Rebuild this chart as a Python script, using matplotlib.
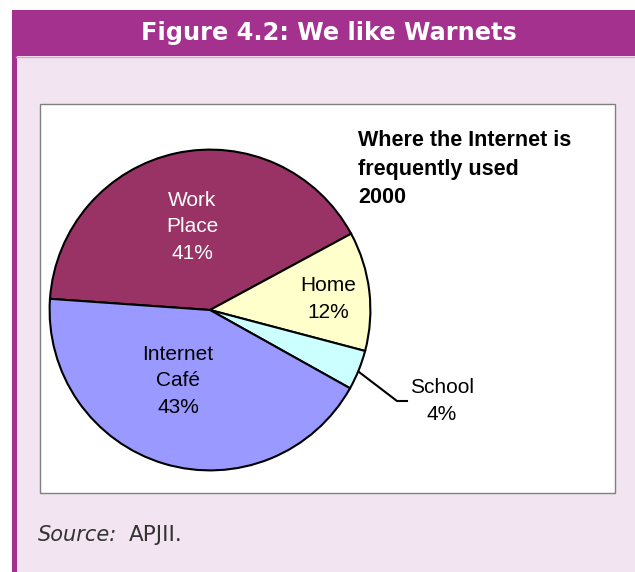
import matplotlib
matplotlib.use('Agg')
import matplotlib.pyplot as plt
import matplotlib.transforms as mtrans
from matplotlib.patches import Rectangle

# =====================================
# Data
# =====================================
labels = ['Work\nPlace', 'Home', 'School', 'Internet\nCafé']
shares = [41, 12, 4, 43]
colors = ['#993366', '#FFFFCC', '#CCFFFF', '#9999FF']
text_colors = ['white', 'black', 'black', 'black']

fig_title = 'Figure 4.2: We like Warnets'
chart_title = 'Where the Internet is\nfrequently used\n2000'

# =====================================
# Figure + background panel (pixel coords, y from top)
# =====================================
W, H = 635, 572
fig = plt.figure(figsize=(W / 100, H / 100), dpi=100)
fig.patch.set_facecolor('white')

bg = fig.add_axes([0, 0, 1, 1])
bg.set_xlim(0, W)
bg.set_ylim(H, 0)
bg.axis('off')

# pink panel and purple border
bg.add_patch(Rectangle((12, 10), W - 12, H - 10, facecolor='#F2E4F0', edgecolor='none'))
bg.add_patch(Rectangle((12, 10), 4.5, H - 10, facecolor='#A5318F', edgecolor='none'))
bg.add_patch(Rectangle((12, 10), W - 12, 46, facecolor='#A5318F', edgecolor='none'))
bg.plot([16, W], [56.5, 56.5], color='#D9A8D0', linewidth=1)

bg.text(329, 33, fig_title, color='white', fontsize=17.3, fontweight='bold',
        family='DejaVu Sans', ha='center', va='center')

# white chart box
bg.add_patch(Rectangle((40, 104), 575, 389, facecolor='white',
                       edgecolor='#808080', linewidth=1))

# =====================================
# Pie
# =====================================
cx, cy, r = 210, 310, 162
ax = fig.add_axes([(cx - r) / W, (H - cy - r) / H, 2 * r / W, 2 * r / H])
ax.pie(
    shares,
    colors=colors,
    startangle=176,
    counterclock=False,
    wedgeprops={'edgecolor': 'black', 'linewidth': 1.5},
)
ax.set_xlim(-1.01, 1.01)
ax.set_ylim(-1.01, 1.01)
ax.set_aspect('equal')

# =====================================
# Overlay for labels and text
# =====================================
top = fig.add_axes([0, 0, 1, 1])
top.set_xlim(0, W)
top.set_ylim(H, 0)
top.axis('off')
top.patch.set_visible(False)

# chart title
top.text(358, 130, chart_title, fontsize=15.5, fontweight='bold',
         family='Liberation Sans', ha='left', va='top', linespacing=1.48)

# slice labels
label_pos = [(192, 227), (328, 299), (442, 401), (178, 381)]
for lab, pct, tc, (x, y) in zip(labels, shares, text_colors, label_pos):
    top.text(x, y, f'{lab}\n{pct}%', color=tc, fontsize=15,
             family='Liberation Sans', ha='center', va='center', linespacing=1.5)

# leader line for the small slice
top.plot([359, 397, 407], [372, 401, 401], color='black', linewidth=1.5)

# source line
src = top.text(38, 535, 'Source:', fontsize=15, style='italic', color='#333333',
               family='DejaVu Sans', ha='left', va='center')
fig.canvas.draw()
bb = src.get_window_extent()
top.text(bb.x1 + 12, 535, 'APJII.', fontsize=15.5, color='#333333',
         family='DejaVu Sans', ha='left', va='center',
         transform=mtrans.blended_transform_factory(
             mtrans.IdentityTransform(), top.transData))

plt.savefig('out.png', dpi=100)
